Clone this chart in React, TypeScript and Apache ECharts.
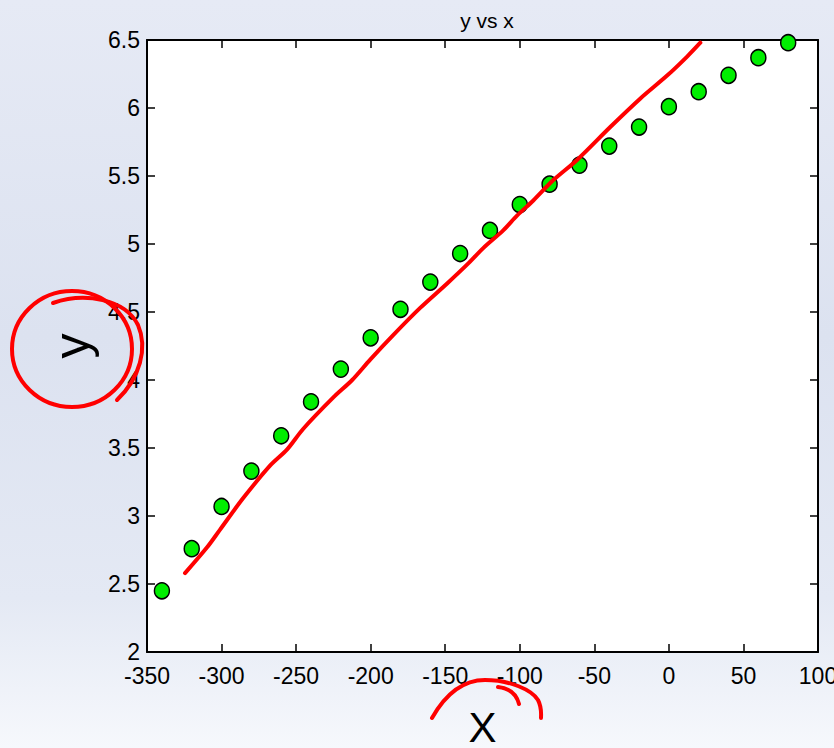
import React, { useEffect, useRef } from "react";
import * as echarts from "echarts";

// Data: green markers
const xValues = [-340, -320, -300, -280, -260, -240, -220, -200, -180, -160, -140, -120, -100, -80, -60, -40, -20, 0, 20, 40, 60, 80];
const yValues = [2.45, 2.76, 3.07, 3.33, 3.59, 3.84, 4.08, 4.31, 4.52, 4.72, 4.93, 5.1, 5.29, 5.44, 5.58, 5.72, 5.86, 6.01, 6.12, 6.24, 6.37, 6.48];

// Hand-drawn red trend stroke (in data units)
const redX = [-324.5, -309.7, -301.0, -285.6, -267.5, -256.0, -245.3, -225.2, -212.4, -200.3, -184.9, -166.8, -148.7, -135.2, -124.5, -111.1, -101.7, -90.9, -77.5, -61.4, -39.3, -19.1, -1.0, 12.4, 21.1];
const redY = [2.58, 2.77, 2.9, 3.13, 3.37, 3.49, 3.64, 3.87, 4.0, 4.15, 4.33, 4.53, 4.71, 4.85, 4.97, 5.1, 5.21, 5.32, 5.47, 5.62, 5.86, 6.07, 6.24, 6.38, 6.48];

const xTicks = { min: -350, max: 100, step: 50 };
const yTicks = { min: 2, max: 6.5, step: 0.5 };

const titleText = "y vs x";
const xName = "X";
const yName = "y";

echarts.graphic.registerShape(
  "yLoop2",
  echarts.graphic.extendPath("M 53 303 C 85 292, 125 299, 138 325 C 148 348, 140 378, 117 400", {})
);
echarts.graphic.registerShape(
  "xArc",
  echarts.graphic.extendPath("M 432 718 C 445 695, 462 680, 485 680 C 510 680, 532 690, 538 700 C 542 708, 541 714, 541 718", {})
);
echarts.graphic.registerShape(
  "xHook",
  echarts.graphic.extendPath("M 498 687 C 508 688, 516 692, 519 704", {})
);

export default function App() {
  const ref = useRef<HTMLDivElement>(null);

  useEffect(() => {
    if (!ref.current) return;
    const chart = echarts.init(ref.current, null, { renderer: "svg" });
    const scatterData = xValues.map((x, i) => [x, yValues[i]]);
    const redData = redX.map((x, i) => [x, redY[i]]);
    const font = "'Liberation Sans', Arial, Helvetica, sans-serif";
    const sideAxis = {
      axisLine: { show: true, onZero: false, lineStyle: { color: "#000", width: 2 } },
      axisTick: { show: true, inside: true, length: 8, lineStyle: { color: "#000", width: 1.5 } },
      splitLine: { show: false },
    };

    chart.setOption({
      animation: false,
      backgroundColor: {
        type: "linear",
        x: 0, y: 0, x2: 0, y2: 1,
        colorStops: [
          { offset: 0, color: "#e6eaf5" },
          { offset: 0.45, color: "#dce2f0" },
          { offset: 0.8, color: "#e4e9f4" },
          { offset: 1, color: "#f6f8fc" },
        ],
      },
      title: {
        text: titleText,
        left: 482,
        top: 5,
        textAlign: "center",
        textStyle: { fontFamily: font, fontSize: 21, fontWeight: "normal", color: "#000" },
      },
      grid: {
        left: 147, right: 16, top: 40, bottom: 96,
        show: true, backgroundColor: "#fff", borderWidth: 0,
        outerBoundsMode: "none",
        containLabel: false,
      },
      xAxis: [
        {
          type: "value",
          min: xTicks.min,
          max: xTicks.max,
          interval: xTicks.step,
          position: "bottom",
          name: xName,
          nameLocation: "middle",
          nameGap: 54,
          nameTextStyle: { fontFamily: font, fontSize: 42, color: "#000", lineHeight: 42 },
          axisLabel: { color: "#000", fontFamily: font, fontSize: 23, margin: 12 },
          ...sideAxis,
        },
        {
          type: "value",
          min: xTicks.min,
          max: xTicks.max,
          interval: xTicks.step,
          position: "top",
          axisLabel: { show: false },
          ...sideAxis,
        },
      ],
      yAxis: [
        {
          type: "value",
          min: yTicks.min,
          max: yTicks.max,
          interval: yTicks.step,
          position: "left",
          name: yName,
          nameLocation: "middle",
          nameRotate: 90,
          nameGap: 46,
          nameTextStyle: { fontFamily: font, fontSize: 50, color: "#000" },
          axisLabel: { color: "#000", fontFamily: font, fontSize: 23, margin: 7 },
          ...sideAxis,
        },
        {
          type: "value",
          min: yTicks.min,
          max: yTicks.max,
          interval: yTicks.step,
          position: "right",
          axisLabel: { show: false },
          ...sideAxis,
        },
      ],
      series: [
        {
          type: "scatter",
          xAxisIndex: 0,
          yAxisIndex: 0,
          data: scatterData,
          symbol: "circle",
          symbolSize: [15, 16],
          itemStyle: { color: "#00ee00", borderColor: "#000", borderWidth: 1.5, opacity: 1 },
          z: 3,
        },
        {
          type: "line",
          xAxisIndex: 0,
          yAxisIndex: 0,
          data: redData,
          smooth: 0.3,
          showSymbol: false,
          symbol: "none",
          clip: false,
          lineStyle: { color: "#ff0000", width: 4, cap: "round", join: "round" },
          z: 4,
        },
      ],
      graphic: [
        {
          type: "ellipse",
          shape: { cx: 72, cy: 349, rx: 60, ry: 58 },
          style: { fill: "none", stroke: "#ff0000", lineWidth: 4 },
          z: 100,
        },
        {
          type: "yLoop2",
          style: { fill: "none", stroke: "#ff0000", lineWidth: 4, lineCap: "round" },
          z: 100,
        },
        {
          type: "xArc",
          style: { fill: "none", stroke: "#ff0000", lineWidth: 4, lineCap: "round" },
          z: 100,
        },
        {
          type: "xHook",
          style: { fill: "none", stroke: "#ff0000", lineWidth: 4, lineCap: "round" },
          z: 100,
        },
      ],
    });
    return () => chart.dispose();
  }, []);

  return <div ref={ref} style={{ position: "fixed", left: 0, top: 0, width: 834, height: 748 }} />;
}
